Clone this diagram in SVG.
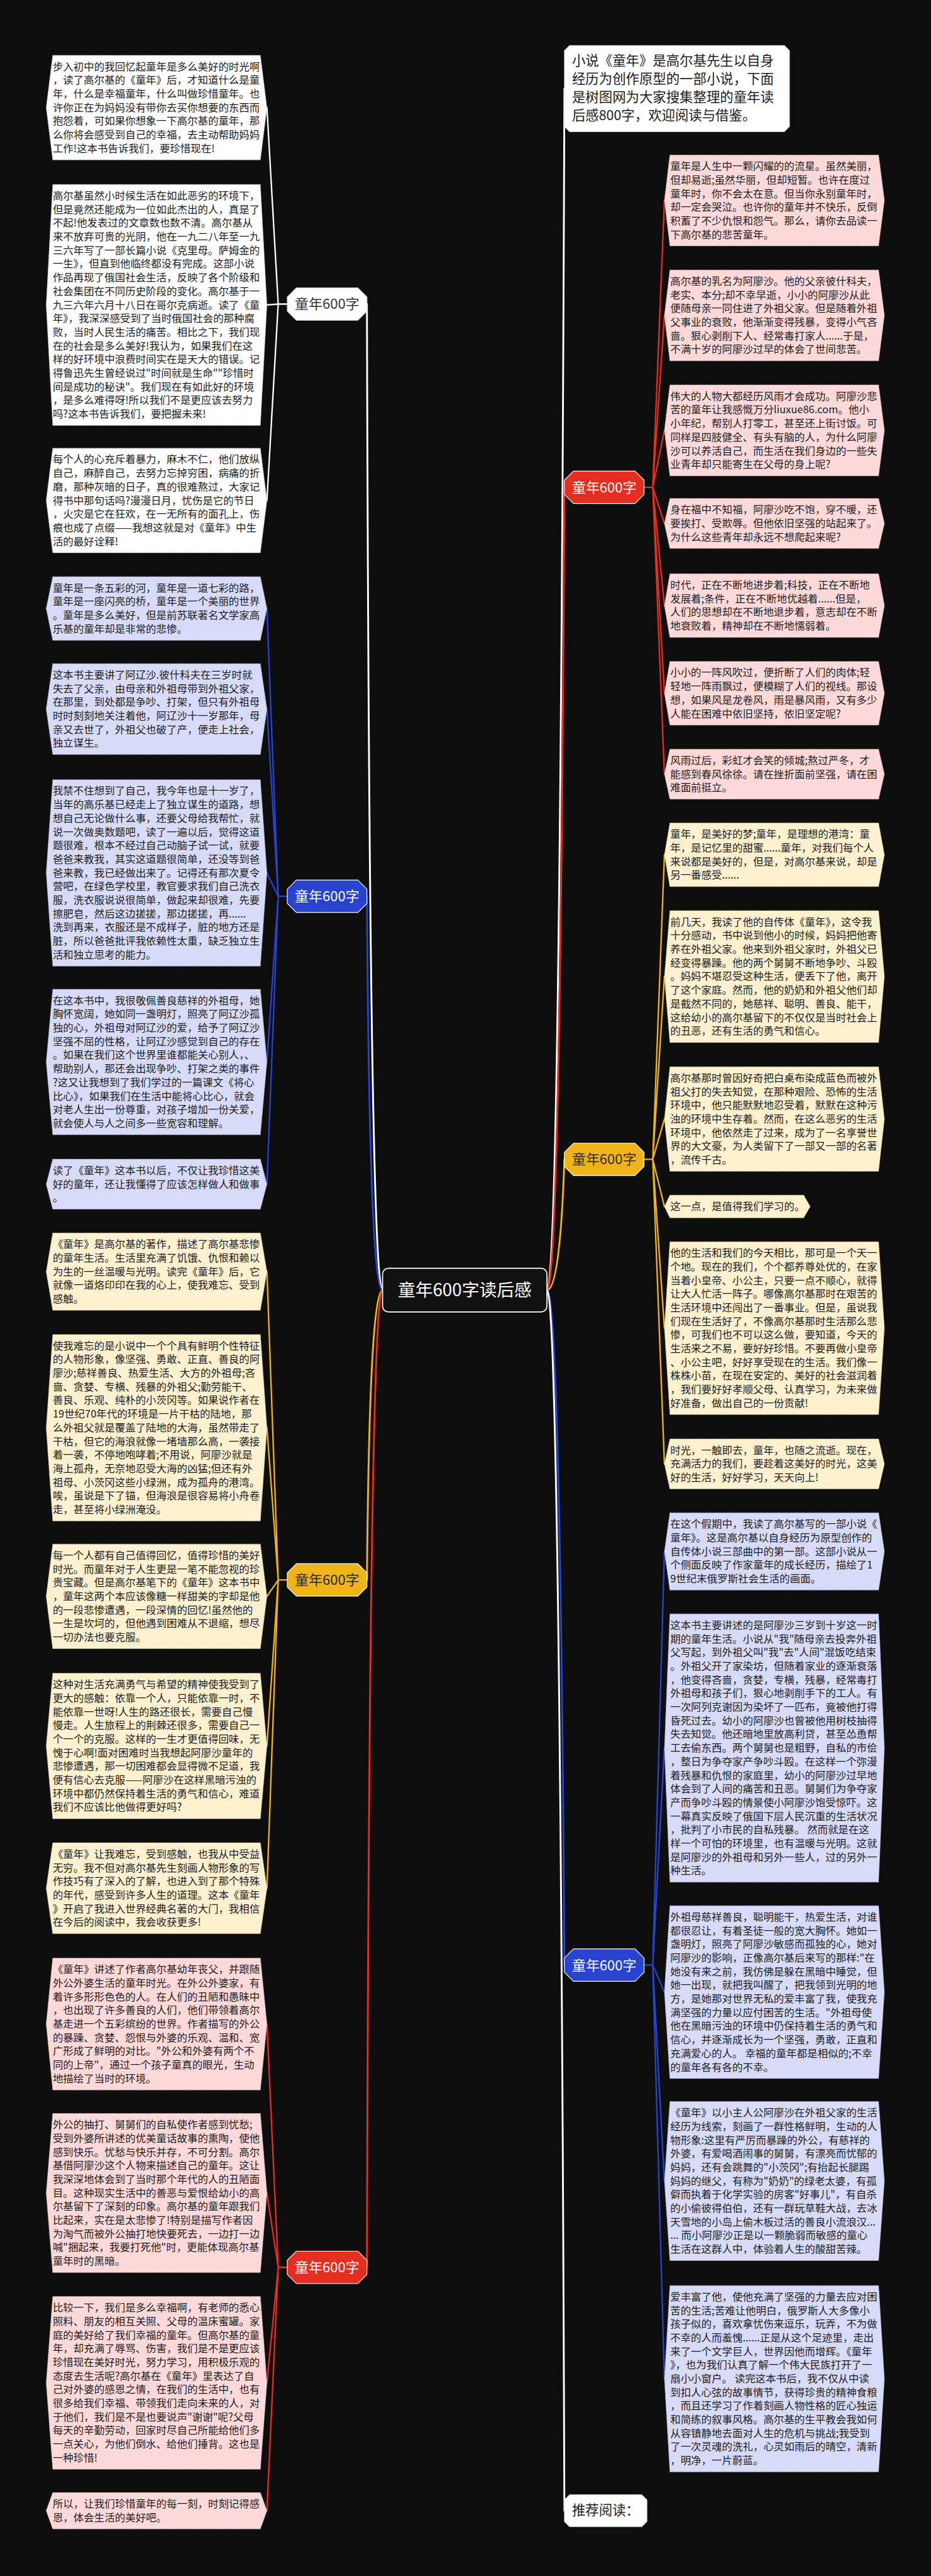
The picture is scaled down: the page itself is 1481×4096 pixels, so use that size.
<svg xmlns="http://www.w3.org/2000/svg" width="1481" height="4096" viewBox="0 0 1481 4096">
<style>
.t{font-family:"Noto Sans CJK SC","Noto Sans",sans-serif;font-size:28.5px;fill:#1c1c1c}
.big{font-family:"Noto Sans CJK SC","Noto Sans",sans-serif;font-size:37px;fill:#1c1c1c}
.lab{font-family:"Noto Sans CJK SC","Noto Sans",sans-serif;font-size:38px;text-anchor:middle}
.wh{fill:#ffffff;stroke:#bbbbbb;stroke-width:1.5;stroke-dasharray:3 2}
.pk{fill:#fdd9d9;stroke:#c9b0b0;stroke-width:1.5;stroke-dasharray:3 2}
.yl{fill:#fdf1cf;stroke:#c9bd9c;stroke-width:1.5;stroke-dasharray:3 2}
.bl{fill:#d7dbf8;stroke:#a9acc9;stroke-width:1.5;stroke-dasharray:3 2}
.ln{fill:none;stroke-linecap:round}
.cw{stroke:#ffffff}.cr{stroke:#e52e1f}.cy{stroke:#f0b419}.cb{stroke:#2843cf}
</style>
<rect x="0" y="0" width="1481" height="4096" fill="#0e0e0e"/>
<g transform="scale(0.5785)">
<g id="connectors">
<!-- main branches right -->
<path class="ln cw" stroke-width="5" d="M1504,3546 Q1540,3546 1552,243.5"/>
<path class="ln cr" stroke-width="5" d="M1504,3546 Q1540,3546 1552,1339.4"/>
<path class="ln cy" stroke-width="5" d="M1504,3546 Q1540,3546 1552,3186.6"/>
<path class="ln cb" stroke-width="5" d="M1504,3546 Q1540,3546 1552,5401.3"/>
<path class="ln cw" stroke-width="5" d="M1504,3546 Q1540,3546 1552,6901"/>
<!-- main branches left -->
<path class="ln cw" stroke-width="5" d="M1052,3546 Q1016,3546 1009,835.8"/>
<path class="ln cb" stroke-width="5" d="M1052,3546 Q1016,3546 1009,2463.6"/>
<path class="ln cy" stroke-width="5" d="M1052,3546 Q1016,3546 1009,4342.6"/>
<path class="ln cr" stroke-width="5" d="M1052,3546 Q1016,3546 1009,6232.1"/>
<!-- left white fan -->
<path class="ln cw" stroke-width="4" d="M790,835.8 L765,835.8 M765,835.8 L734,295.8 M765,835.8 L734,838.3 M765,835.8 L734,1375.8"/>
<!-- left blue fan -->
<path class="ln cb" stroke-width="4" d="M790,2463.6 L765,2463.6 M765,2463.6 L734,1672.5 M765,2463.6 L734,1949 M765,2463.6 L734,2399.3 M765,2463.6 L734,2919 M765,2463.6 L734,3254.8"/>
<!-- left yellow fan -->
<path class="ln cy" stroke-width="4" d="M790,4342.6 L765,4342.6 M765,4342.6 L734,3495.3 M765,4342.6 L734,3924.3 M765,4342.6 L734,4387.8 M765,4342.6 L734,4799 M765,4342.6 L734,5190"/>
<!-- left red fan -->
<path class="ln cr" stroke-width="4" d="M790,6232.1 L765,6232.1 M765,6232.1 L734,5563.3 M765,6232.1 L734,6027.8 M765,6232.1 L734,6549.5 M765,6232.1 L734,6901"/>
<!-- right red fan -->
<path class="ln cr" stroke-width="4" d="M1771,1339.4 L1795,1339.4 M1795,1339.4 L1827,551 M1795,1339.4 L1827,867 M1795,1339.4 L1827,1183 M1795,1339.4 L1827,1438.8 M1795,1339.4 L1827,1664.5 M1795,1339.4 L1827,1905.5 M1795,1339.4 L1827,2127.8"/>
<!-- right yellow fan -->
<path class="ln cy" stroke-width="4" d="M1771,3186.6 L1795,3186.6 M1795,3186.6 L1827,2349.5 M1795,3186.6 L1827,2684.3 M1795,3186.6 L1827,3075.8 M1795,3186.6 L1827,3316.3 M1795,3186.6 L1827,3650.5 M1795,3186.6 L1827,4023.8"/>
<!-- right blue fan -->
<path class="ln cb" stroke-width="4" d="M1771,5401.3 L1795,5401.3 M1795,5401.3 L1827,4264.3 M1795,5401.3 L1827,4804.8 M1795,5401.3 L1827,5475.5 M1795,5401.3 L1827,5994.8 M1795,5401.3 L1827,6538.3"/>
</g>

<g id="center">
<rect x="1052" y="3486" width="452" height="120" rx="16" fill="#111111" stroke="#ffffff" stroke-width="3"/>
<text x="1278" y="3563" class="lab" style="font-size:48px;fill:#ffffff">童年600字读后感</text>
</g>

<!-- branch labels -->
<g id="label-left-white">
<polygon points="815,791.3 984,791.3 1009,816.3 1009,855.3 984,880.3 815,880.3 790,855.3 790,816.3" fill="#ffffff" stroke="#dddddd" stroke-width="2"/>
<text x="899.5" y="849" class="lab" style="fill:#333333">童年600字</text>
</g>
<g id="label-left-blue">
<polygon points="815,2419.1 984,2419.1 1009,2444.1 1009,2483.1 984,2508.1 815,2508.1 790,2483.1 790,2444.1" fill="#2843cf" stroke="#ffffff" stroke-width="2"/>
<text x="899.5" y="2477" class="lab" style="fill:#ffffff">童年600字</text>
</g>
<g id="label-left-yellow">
<polygon points="815,4298.1 984,4298.1 1009,4323.1 1009,4362.1 984,4387.1 815,4387.1 790,4362.1 790,4323.1" fill="#f0b419" stroke="#ffffff" stroke-width="2"/>
<text x="899.5" y="4356" class="lab" style="fill:#2a2a2a">童年600字</text>
</g>
<g id="label-left-red">
<polygon points="815,6187.6 984,6187.6 1009,6212.6 1009,6251.6 984,6276.6 815,6276.6 790,6251.6 790,6212.6" fill="#e52e1f" stroke="#ffffff" stroke-width="2"/>
<text x="899.5" y="6245" class="lab" style="fill:#ffffff">童年600字</text>
</g>
<g id="label-right-red">
<polygon points="1577,1294.9 1746,1294.9 1771,1319.9 1771,1358.9 1746,1383.9 1577,1383.9 1552,1358.9 1552,1319.9" fill="#e52e1f" stroke="#ffffff" stroke-width="2"/>
<text x="1661.5" y="1353" class="lab" style="fill:#ffffff">童年600字</text>
</g>
<g id="label-right-yellow">
<polygon points="1577,3142.1 1746,3142.1 1771,3167.1 1771,3206.1 1746,3231.1 1577,3231.1 1552,3206.1 1552,3167.1" fill="#f0b419" stroke="#ffffff" stroke-width="2"/>
<text x="1661.5" y="3200" class="lab" style="fill:#2a2a2a">童年600字</text>
</g>
<g id="label-right-blue">
<polygon points="1577,5356.8 1746,5356.8 1771,5381.8 1771,5420.8 1746,5445.8 1577,5445.8 1552,5420.8 1552,5381.8" fill="#2843cf" stroke="#ffffff" stroke-width="2"/>
<text x="1661.5" y="5415" class="lab" style="fill:#ffffff">童年600字</text>
</g>

<g id="intro">
<polygon points="1566,125 2157,125 2171,139 2171,348 2157,362 1566,362 1552,348 1552,139" fill="#ffffff" stroke="#dddddd" stroke-width="1.5"/>
<text class="big"><tspan x="1573" y="180">小说《童年》是高尔基先生以自身</tspan><tspan x="1573" dy="50">经历为创作原型的一部小说，下面</tspan><tspan x="1573" dy="50">是树图网为大家搜集整理的童年读</tspan><tspan x="1573" dy="50">后感800字，欢迎阅读与借鉴。</tspan></text>
</g>
<g id="recommend">
<polygon points="1566,6857 1765,6857 1779,6871 1779,6931 1765,6945 1566,6945 1552,6931 1552,6871" fill="#ffffff" stroke="#dddddd" stroke-width="1.5"/>
<text class="big" x="1573" y="6912">推荐阅读：</text>
</g>

<!-- LEFT COLUMN -->
<g id="L1">
<polygon class="wh" points="145,152 716,152 734,295.8 716,439.5 145,439.5 127,295.8"/>
<text class="t"><tspan x="145" y="193">步入初中的我回忆起童年是多么美好的时光啊</tspan><tspan x="145" dy="37.5">，读了高尔基的《童年》后，才知道什么是童</tspan><tspan x="145" dy="37.5">年，什么是幸福童年，什么叫做珍惜童年。也</tspan><tspan x="145" dy="37.5">许你正在为妈妈没有带你去买你想要的东西而</tspan><tspan x="145" dy="37.5">抱怨着，可如果你想象一下高尔基的童年，那</tspan><tspan x="145" dy="37.5">么你将会感受到自己的幸福，去主动帮助妈妈</tspan><tspan x="145" dy="37.5">工作!这本书告诉我们，要珍惜现在!</tspan></text>
</g>
<g id="L2">
<polygon class="wh" points="145,507 716,507 734,838.3 716,1169.5 145,1169.5 127,838.3"/>
<text class="t"><tspan x="145" y="548">高尔基虽然小时候生活在如此恶劣的环境下，</tspan><tspan x="145" dy="37.5">但是竟然还能成为一位如此杰出的人，真是了</tspan><tspan x="145" dy="37.5">不起!他发表过的文章数也数不清。高尔基从</tspan><tspan x="145" dy="37.5">来不放弃可贵的光阴，他在一九二八年至一九</tspan><tspan x="145" dy="37.5">三六年写了一部长篇小说《克里母。萨姆金的</tspan><tspan x="145" dy="37.5">一生》，但直到他临终都没有完成。这部小说</tspan><tspan x="145" dy="37.5">作品再现了俄国社会生活，反映了各个阶级和</tspan><tspan x="145" dy="37.5">社会集团在不同历史阶段的变化。高尔基于一</tspan><tspan x="145" dy="37.5">九三六年六月十八日在哥尔克病逝。读了《童</tspan><tspan x="145" dy="37.5">年》，我深深感受到了当时俄国社会的那种腐</tspan><tspan x="145" dy="37.5">败，当时人民生活的痛苦。相比之下，我们现</tspan><tspan x="145" dy="37.5">在的社会是多么美好!我认为，如果我们在这</tspan><tspan x="145" dy="37.5">样的好环境中浪费时间实在是天大的错误。记</tspan><tspan x="145" dy="37.5">得鲁迅先生曾经说过"时间就是生命""珍惜时</tspan><tspan x="145" dy="37.5">间是成功的秘诀"。我们现在有如此好的环境</tspan><tspan x="145" dy="37.5">，是多么难得呀!所以我们不是更应该去努力</tspan><tspan x="145" dy="37.5">吗?这本书告诉我们，要把握未来!</tspan></text>
</g>
<g id="L3">
<polygon class="wh" points="145,1232 716,1232 734,1375.8 716,1519.5 145,1519.5 127,1375.8"/>
<text class="t"><tspan x="145" y="1273">每个人的心充斥着暴力，麻木不仁，他们放纵</tspan><tspan x="145" dy="37.5">自己，麻醉自己，去努力忘掉穷困，病痛的折</tspan><tspan x="145" dy="37.5">磨，那种灰暗的日子，真的很难熬过，大家记</tspan><tspan x="145" dy="37.5">得书中那句话吗?漫漫日月，忧伤是它的节日</tspan><tspan x="145" dy="37.5">，火灾是它在狂欢，在一无所有的面孔上，伤</tspan><tspan x="145" dy="37.5">痕也成了点缀——我想这就是对《童年》中生</tspan><tspan x="145" dy="37.5">活的最好诠释!</tspan></text>
</g>
<g id="L4">
<polygon class="bl" points="145,1585 716,1585 734,1672.5 716,1760 145,1760 127,1672.5"/>
<text class="t"><tspan x="145" y="1626">童年是一条五彩的河，童年是一道七彩的路，</tspan><tspan x="145" dy="37.5">童年是一座闪亮的桥，童年是一个美丽的世界</tspan><tspan x="145" dy="37.5">。童年是多么美好，但是前苏联著名文学家高</tspan><tspan x="145" dy="37.5">乐基的童年却是非常的悲惨。</tspan></text>
</g>
<g id="L5">
<polygon class="bl" points="145,1824 716,1824 734,1949 716,2074 145,2074 127,1949"/>
<text class="t"><tspan x="145" y="1865">这本书主要讲了阿辽沙.彼什科夫在三岁时就</tspan><tspan x="145" dy="37.5">失去了父亲，由母亲和外祖母带到外祖父家，</tspan><tspan x="145" dy="37.5">在那里，到处都是争吵、打架，但只有外祖母</tspan><tspan x="145" dy="37.5">时时刻刻地关注着他，阿辽沙十一岁那年，母</tspan><tspan x="145" dy="37.5">亲又去世了，外祖父也破了产，便走上社会，</tspan><tspan x="145" dy="37.5">独立谋生。</tspan></text>
</g>
<g id="L6">
<polygon class="bl" points="145,2143 716,2143 734,2399.3 716,2655.5 145,2655.5 127,2399.3"/>
<text class="t"><tspan x="145" y="2184">我禁不住想到了自己，我今年也是十一岁了，</tspan><tspan x="145" dy="37.5">当年的高乐基已经走上了独立谋生的道路，想</tspan><tspan x="145" dy="37.5">想自己无论做什么事，还要父母给我帮忙，就</tspan><tspan x="145" dy="37.5">说一次做奥数题吧，读了一遍以后，觉得这道</tspan><tspan x="145" dy="37.5">题很难，根本不经过自己动脑子试一试，就要</tspan><tspan x="145" dy="37.5">爸爸来教我，其实这道题很简单，还没等到爸</tspan><tspan x="145" dy="37.5">爸来教，我已经做出来了。记得还有那次夏令</tspan><tspan x="145" dy="37.5">营吧，在绿色学校里，教官要求我们自己洗衣</tspan><tspan x="145" dy="37.5">服，洗衣服说说很简单，做起来却很难，先要</tspan><tspan x="145" dy="37.5">擦肥皂，然后这边搓搓，那边搓搓，再......</tspan><tspan x="145" dy="37.5">洗到再来，衣服还是不成样子，脏的地方还是</tspan><tspan x="145" dy="37.5">脏，所以爸爸批评我依赖性太重，缺乏独立生</tspan><tspan x="145" dy="37.5">活和独立思考的能力。</tspan></text>
</g>
<g id="L7">
<polygon class="bl" points="145,2719 716,2719 734,2919 716,3119 145,3119 127,2919"/>
<text class="t"><tspan x="145" y="2760">在这本书中，我很敬佩善良慈祥的外祖母，她</tspan><tspan x="145" dy="37.5">胸怀宽阔，她如同一盏明灯，照亮了阿辽沙孤</tspan><tspan x="145" dy="37.5">独的心，外祖母对阿辽沙的爱，给予了阿辽沙</tspan><tspan x="145" dy="37.5">坚强不屈的性格，让阿辽沙感觉到自己的存在</tspan><tspan x="145" dy="37.5">。如果在我们这个世界里谁都能关心别人，、</tspan><tspan x="145" dy="37.5">帮助别人，那还会出现争吵、打架之类的事件</tspan><tspan x="145" dy="37.5">?这又让我想到了我们学过的一篇课文《将心</tspan><tspan x="145" dy="37.5">比心》，如果我们在生活中能将心比心，就会</tspan><tspan x="145" dy="37.5">对老人生出一份尊重，对孩子增加一份关爱，</tspan><tspan x="145" dy="37.5">就会使人与人之间多一些宽容和理解。</tspan></text>
</g>
<g id="L8">
<polygon class="bl" points="145,3186 716,3186 734,3254.8 716,3323.5 145,3323.5 127,3254.8"/>
<text class="t"><tspan x="145" y="3227">读了《童年》这本书以后，不仅让我珍惜这美</tspan><tspan x="145" dy="37.5">好的童年，还让我懂得了应该怎样做人和做事</tspan><tspan x="145" dy="37.5">。</tspan></text>
</g>
<g id="L9">
<polygon class="yl" points="145,3389 716,3389 734,3495.3 716,3601.5 145,3601.5 127,3495.3"/>
<text class="t"><tspan x="145" y="3430">《童年》是高尔基的著作，描述了高尔基悲惨</tspan><tspan x="145" dy="37.5">的童年生活。生活里充满了饥饿、仇恨和赖以</tspan><tspan x="145" dy="37.5">为生的一丝温暖与光明。读完《童年》后，它</tspan><tspan x="145" dy="37.5">就像一道烙印印在我的心上，使我难忘、受到</tspan><tspan x="145" dy="37.5">感触。</tspan></text>
</g>
<g id="L10">
<polygon class="yl" points="145,3668 716,3668 734,3924.3 716,4180.5 145,4180.5 127,3924.3"/>
<text class="t"><tspan x="145" y="3709">使我难忘的是小说中一个个具有鲜明个性特征</tspan><tspan x="145" dy="37.5">的人物形象，像坚强、勇敢、正直、善良的阿</tspan><tspan x="145" dy="37.5">廖沙;慈祥善良、热爱生活、大方的外祖母;吝</tspan><tspan x="145" dy="37.5">啬、贪婪、专横、残暴的外祖父;勤劳能干、</tspan><tspan x="145" dy="37.5">善良、乐观、纯朴的小茨冈等。如果说作者在</tspan><tspan x="145" dy="37.5">19世纪70年代的环境是一片干枯的陆地，那</tspan><tspan x="145" dy="37.5">么外祖父就是覆盖了陆地的大海，虽然带走了</tspan><tspan x="145" dy="37.5">干枯，但它的海浪就像一堵墙那么高，一袭接</tspan><tspan x="145" dy="37.5">着一袭，不停地咆哮着;不用说，阿廖沙就是</tspan><tspan x="145" dy="37.5">海上孤舟，无奈地忍受大海的凶猛;但还有外</tspan><tspan x="145" dy="37.5">祖母、小茨冈这些小绿洲，成为孤舟的港湾。</tspan><tspan x="145" dy="37.5">唉，虽说是下了锚，但海浪是很容易将小舟卷</tspan><tspan x="145" dy="37.5">走，甚至将小绿洲淹没。</tspan></text>
</g>
<g id="L11">
<polygon class="yl" points="145,4244 716,4244 734,4387.8 716,4531.5 145,4531.5 127,4387.8"/>
<text class="t"><tspan x="145" y="4285">每一个人都有自己值得回忆，值得珍惜的美好</tspan><tspan x="145" dy="37.5">时光。而童年对于人生更是一笔不能忽视的珍</tspan><tspan x="145" dy="37.5">贵宝藏。但是高尔基笔下的《童年》这本书中</tspan><tspan x="145" dy="37.5">，童年这两个本应该像糖一样甜美的字却是他</tspan><tspan x="145" dy="37.5">的一段悲惨遭遇，一段深情的回忆!虽然他的</tspan><tspan x="145" dy="37.5">一生是坎坷的，但他遇到困难从不退缩，想尽</tspan><tspan x="145" dy="37.5">一切办法也要克服。</tspan></text>
</g>
<g id="L12">
<polygon class="yl" points="145,4599 716,4599 734,4799 716,4999 145,4999 127,4799"/>
<text class="t"><tspan x="145" y="4640">这种对生活充满勇气与希望的精神使我受到了</tspan><tspan x="145" dy="37.5">更大的感触：依靠一个人，只能依靠一时，不</tspan><tspan x="145" dy="37.5">能依靠一世呀!人生的路还很长，需要自己慢</tspan><tspan x="145" dy="37.5">慢走。人生旅程上的荆棘还很多，需要自己一</tspan><tspan x="145" dy="37.5">个一个的克服。这样的一生才更值得回味，无</tspan><tspan x="145" dy="37.5">愧于心啊!面对困难时当我想起阿廖沙童年的</tspan><tspan x="145" dy="37.5">悲惨遭遇，那一切困难都会显得微不足道，我</tspan><tspan x="145" dy="37.5">便有信心去克服——阿廖沙在这样黑暗污浊的</tspan><tspan x="145" dy="37.5">环境中都仍然保持着生活的勇气和信心，难道</tspan><tspan x="145" dy="37.5">我们不应该比他做得更好吗?</tspan></text>
</g>
<g id="L13">
<polygon class="yl" points="145,5065 716,5065 734,5190 716,5315 145,5315 127,5190"/>
<text class="t"><tspan x="145" y="5106">《童年》让我难忘，受到感触，也我从中受益</tspan><tspan x="145" dy="37.5">无穷。我不但对高尔基先生刻画人物形象的写</tspan><tspan x="145" dy="37.5">作技巧有了深入的了解，也进入到了那个特殊</tspan><tspan x="145" dy="37.5">的年代，感受到许多人生的道理。这本《童年</tspan><tspan x="145" dy="37.5">》开启了我进入世界经典名著的大门，我相信</tspan><tspan x="145" dy="37.5">在今后的阅读中，我会收获更多!</tspan></text>
</g>
<g id="L14">
<polygon class="pk" points="145,5382 716,5382 734,5563.3 716,5744.5 145,5744.5 127,5563.3"/>
<text class="t"><tspan x="145" y="5423">《童年》讲述了作者高尔基幼年丧父，并跟随</tspan><tspan x="145" dy="37.5">外公外婆生活的童年时光。在外公外婆家，有</tspan><tspan x="145" dy="37.5">着许多形形色色的人。在人们的丑陋和愚昧中</tspan><tspan x="145" dy="37.5">，也出现了许多善良的人们，他们带领着高尔</tspan><tspan x="145" dy="37.5">基走进一个五彩缤纷的世界。作者描写的外公</tspan><tspan x="145" dy="37.5">的暴躁、贪婪、怨恨与外婆的乐观、温和、宽</tspan><tspan x="145" dy="37.5">广形成了鲜明的对比。"外公和外婆有两个不</tspan><tspan x="145" dy="37.5">同的上帝"，通过一个孩子童真的眼光，生动</tspan><tspan x="145" dy="37.5">地描绘了当时的环境。</tspan></text>
</g>
<g id="L15">
<polygon class="pk" points="145,5809 716,5809 734,6027.8 716,6246.5 145,6246.5 127,6027.8"/>
<text class="t"><tspan x="145" y="5850">外公的抽打、舅舅们的自私使作者感到忧愁;</tspan><tspan x="145" dy="37.5">受到外婆所讲述的优美童话故事的熏陶，使他</tspan><tspan x="145" dy="37.5">感到快乐。忧愁与快乐并存，不可分割。高尔</tspan><tspan x="145" dy="37.5">基借阿廖沙这个人物来描述自己的童年。这让</tspan><tspan x="145" dy="37.5">我深深地体会到了当时那个年代的人的丑陋面</tspan><tspan x="145" dy="37.5">目。这种现实生活中的善恶与爱恨给幼小的高</tspan><tspan x="145" dy="37.5">尔基留下了深刻的印象。高尔基的童年跟我们</tspan><tspan x="145" dy="37.5">比起来，实在是太悲惨了!特别是描写作者因</tspan><tspan x="145" dy="37.5">为淘气而被外公抽打地快要死去，一边打一边</tspan><tspan x="145" dy="37.5">喊"捆起来，我要打死他"时，更能体现高尔基</tspan><tspan x="145" dy="37.5">童年时的黑暗。</tspan></text>
</g>
<g id="L16">
<polygon class="pk" points="145,6312 716,6312 734,6549.5 716,6787 145,6787 127,6549.5"/>
<text class="t"><tspan x="145" y="6353">比较一下，我们是多么幸福啊，有老师的悉心</tspan><tspan x="145" dy="37.5">照料、朋友的相互关照、父母的温床蜜罐。家</tspan><tspan x="145" dy="37.5">庭的美好给了我们幸福的童年。但高尔基的童</tspan><tspan x="145" dy="37.5">年，却充满了辱骂、伤害，我们是不是更应该</tspan><tspan x="145" dy="37.5">珍惜现在美好时光，努力学习，用积极乐观的</tspan><tspan x="145" dy="37.5">态度去生活呢?高尔基在《童年》里表达了自</tspan><tspan x="145" dy="37.5">己对外婆的感恩之情，在我们的生活中，也有</tspan><tspan x="145" dy="37.5">很多给我们幸福、带领我们走向未来的人，对</tspan><tspan x="145" dy="37.5">于他们，我们是不是也要说声"谢谢"呢?父母</tspan><tspan x="145" dy="37.5">每天的辛勤劳动，回家时尽自己所能给他们多</tspan><tspan x="145" dy="37.5">一点关心，为他们倒水、给他们捶背。这也是</tspan><tspan x="145" dy="37.5">一种珍惜!</tspan></text>
</g>
<g id="L17">
<polygon class="pk" points="145,6851 716,6851 734,6901 716,6951 145,6951 127,6901"/>
<text class="t"><tspan x="145" y="6892">所以，让我们珍惜童年的每一刻，时刻记得感</tspan><tspan x="145" dy="37.5">恩，体会生活的美好吧。</tspan></text>
</g>

<!-- RIGHT COLUMN -->
<g id="R1">
<polygon class="pk" points="1842,426 2416,426 2432,551 2416,676 1842,676 1827,551"/>
<text class="t"><tspan x="1843" y="467">童年是人生中一颗闪耀的的流星。虽然美丽，</tspan><tspan x="1843" dy="37.5">但却易逝;虽然华丽，但却短暂。也许在度过</tspan><tspan x="1843" dy="37.5">童年时，你不会太在意。但当你永别童年时，</tspan><tspan x="1843" dy="37.5">却一定会哭泣。也许你的童年并不快乐，反倒</tspan><tspan x="1843" dy="37.5">积蓄了不少仇恨和怨气。那么，请你去品读一</tspan><tspan x="1843" dy="37.5">下高尔基的悲苦童年。</tspan></text>
</g>
<g id="R2">
<polygon class="pk" points="1842,742 2416,742 2432,867 2416,992 1842,992 1827,867"/>
<text class="t"><tspan x="1843" y="783">高尔基的乳名为阿廖沙。他的父亲彼什科夫，</tspan><tspan x="1843" dy="37.5">老实、本分;却不幸早逝，小小的阿廖沙从此</tspan><tspan x="1843" dy="37.5">便随母亲一同住进了外祖父家。但是随着外祖</tspan><tspan x="1843" dy="37.5">父事业的衰败，他渐渐变得残暴，变得小气吝</tspan><tspan x="1843" dy="37.5">啬。狠心剥削下人、经常毒打家人......于是，</tspan><tspan x="1843" dy="37.5">不满十岁的阿廖沙过早的体会了世间悲苦。</tspan></text>
</g>
<g id="R3">
<polygon class="pk" points="1842,1058 2416,1058 2432,1183 2416,1308 1842,1308 1827,1183"/>
<text class="t"><tspan x="1843" y="1099">伟大的人物大都经历风雨才会成功。阿廖沙悲</tspan><tspan x="1843" dy="37.5">苦的童年让我感慨万分liuxue86.com。他小</tspan><tspan x="1843" dy="37.5">小年纪，帮别人打零工，甚至还上街讨饭。可</tspan><tspan x="1843" dy="37.5">同样是四肢健全、有头有脑的人，为什么阿廖</tspan><tspan x="1843" dy="37.5">沙可以养活自己，而生活在我们身边的一些失</tspan><tspan x="1843" dy="37.5">业青年却只能寄生在父母的身上呢?</tspan></text>
</g>
<g id="R4">
<polygon class="pk" points="1842,1370 2416,1370 2432,1438.8 2416,1507.5 1842,1507.5 1827,1438.8"/>
<text class="t"><tspan x="1843" y="1411">身在福中不知福，阿廖沙吃不饱，穿不暖，还</tspan><tspan x="1843" dy="37.5">要挨打、受欺辱。但他依旧坚强的站起来了。</tspan><tspan x="1843" dy="37.5">为什么这些青年却永远不想爬起来呢?</tspan></text>
</g>
<g id="R5">
<polygon class="pk" points="1842,1577 2416,1577 2432,1664.5 2416,1752 1842,1752 1827,1664.5"/>
<text class="t"><tspan x="1843" y="1618">时代，正在不断地进步着;科技，正在不断地</tspan><tspan x="1843" dy="37.5">发展着;条件，正在不断地优越着......但是，</tspan><tspan x="1843" dy="37.5">人们的思想却在不断地退步着，意志却在不断</tspan><tspan x="1843" dy="37.5">地衰败着，精神却在不断地懦弱着。</tspan></text>
</g>
<g id="R6">
<polygon class="pk" points="1842,1818 2416,1818 2432,1905.5 2416,1993 1842,1993 1827,1905.5"/>
<text class="t"><tspan x="1843" y="1859">小小的一阵风吹过，便折断了人们的肉体;轻</tspan><tspan x="1843" dy="37.5">轻地一阵雨飘过，便模糊了人们的视线。那设</tspan><tspan x="1843" dy="37.5">想，如果风是龙卷风，雨是暴风雨，又有多少</tspan><tspan x="1843" dy="37.5">人能在困难中依旧坚持，依旧坚定呢?</tspan></text>
</g>
<g id="R7">
<polygon class="pk" points="1842,2059 2416,2059 2432,2127.8 2416,2196.5 1842,2196.5 1827,2127.8"/>
<text class="t"><tspan x="1843" y="2100">风雨过后，彩虹才会笑的倾城;熬过严冬，才</tspan><tspan x="1843" dy="37.5">能感到春风徐徐。请在挫折面前坚强，请在困</tspan><tspan x="1843" dy="37.5">难面前挺立。</tspan></text>
</g>
<g id="R8">
<polygon class="yl" points="1842,2262 2416,2262 2432,2349.5 2416,2437 1842,2437 1827,2349.5"/>
<text class="t"><tspan x="1843" y="2303">童年，是美好的梦;童年，是理想的港湾：童</tspan><tspan x="1843" dy="37.5">年，是记忆里的甜蜜......童年，对我们每个人</tspan><tspan x="1843" dy="37.5">来说都是美好的，但是，对高尔基来说，却是</tspan><tspan x="1843" dy="37.5">另一番感受......</tspan></text>
</g>
<g id="R9">
<polygon class="yl" points="1842,2503 2416,2503 2432,2684.3 2416,2865.5 1842,2865.5 1827,2684.3"/>
<text class="t"><tspan x="1843" y="2544">前几天，我读了他的自传体《童年》，这令我</tspan><tspan x="1843" dy="37.5">十分感动，书中说到他小的时候，妈妈把他寄</tspan><tspan x="1843" dy="37.5">养在外祖父家。他来到外祖父家时，外祖父已</tspan><tspan x="1843" dy="37.5">经变得暴躁。他的两个舅舅不断地争吵、斗殴</tspan><tspan x="1843" dy="37.5">。妈妈不堪忍受这种生活，便丢下了他，离开</tspan><tspan x="1843" dy="37.5">了这个家庭。然而，他的奶奶和外祖父他们却</tspan><tspan x="1843" dy="37.5">是截然不同的，她慈祥、聪明、善良、能干，</tspan><tspan x="1843" dy="37.5">这给幼小的高尔基留下的不仅仅是当时社会上</tspan><tspan x="1843" dy="37.5">的丑恶，还有生活的勇气和信心。</tspan></text>
</g>
<g id="R10">
<polygon class="yl" points="1842,2932 2416,2932 2432,3075.8 2416,3219.5 1842,3219.5 1827,3075.8"/>
<text class="t"><tspan x="1843" y="2973">高尔基那时曾因好奇把白桌布染成蓝色而被外</tspan><tspan x="1843" dy="37.5">祖父打的失去知觉，在那种艰险、恐怖的生活</tspan><tspan x="1843" dy="37.5">环境中，他只能默默地忍受着，默默在这种污</tspan><tspan x="1843" dy="37.5">浊的环境中生存着。然而，在这么恶劣的生活</tspan><tspan x="1843" dy="37.5">环境中，他依然走了过来，成为了一名享誉世</tspan><tspan x="1843" dy="37.5">界的大文豪，为人类留下了一部又一部的名著</tspan><tspan x="1843" dy="37.5">，流传千古。</tspan></text>
</g>
<g id="R11">
<polygon class="yl" points="1842,3285 2210,3285 2228,3316.3 2210,3347.5 1842,3347.5 1827,3316.3"/>
<text class="t"><tspan x="1843" y="3326">这一点，是值得我们学习的。</tspan></text>
</g>
<g id="R12">
<polygon class="yl" points="1842,3413 2416,3413 2432,3650.5 2416,3888 1842,3888 1827,3650.5"/>
<text class="t"><tspan x="1843" y="3454">他的生活和我们的今天相比，那可是一个天一</tspan><tspan x="1843" dy="37.5">个地。现在的我们，个个都养尊处优的，在家</tspan><tspan x="1843" dy="37.5">当着小皇帝、小公主，只要一点不顺心，就得</tspan><tspan x="1843" dy="37.5">让大人忙活一阵子。哪像高尔基那时在艰苦的</tspan><tspan x="1843" dy="37.5">生活环境中还闯出了一番事业。但是，虽说我</tspan><tspan x="1843" dy="37.5">们现在生活好了，不像高尔基那时生活那么悲</tspan><tspan x="1843" dy="37.5">惨，可我们也不可以这么做，要知道，今天的</tspan><tspan x="1843" dy="37.5">生活来之不易，要好好珍惜。不要再做小皇帝</tspan><tspan x="1843" dy="37.5">、小公主吧，好好享受现在的生活。我们像一</tspan><tspan x="1843" dy="37.5">株株小苗，在现在安定的、美好的社会滋润着</tspan><tspan x="1843" dy="37.5">，我们要好好孝顺父母、认真学习，为未来做</tspan><tspan x="1843" dy="37.5">好准备，做出自己的一份贡献!</tspan></text>
</g>
<g id="R13">
<polygon class="yl" points="1842,3955 2416,3955 2432,4023.8 2416,4092.5 1842,4092.5 1827,4023.8"/>
<text class="t"><tspan x="1843" y="3996">时光，一触即去，童年，也随之流逝。现在，</tspan><tspan x="1843" dy="37.5">充满活力的我们，要趁着这美好的时光，这美</tspan><tspan x="1843" dy="37.5">好的生活，好好学习，天天向上!</tspan></text>
</g>
<g id="R14">
<polygon class="bl" points="1842,4158 2416,4158 2432,4264.3 2416,4370.5 1842,4370.5 1827,4264.3"/>
<text class="t"><tspan x="1843" y="4199">在这个假期中，我读了高尔基写的一部小说《</tspan><tspan x="1843" dy="37.5">童年》。这是高尔基以自身经历为原型创作的</tspan><tspan x="1843" dy="37.5">自传体小说三部曲中的第一部。这部小说从一</tspan><tspan x="1843" dy="37.5">个侧面反映了作家童年的成长经历，描绘了1</tspan><tspan x="1843" dy="37.5">9世纪末俄罗斯社会生活的画面。</tspan></text>
</g>
<g id="R15">
<polygon class="bl" points="1842,4436 2416,4436 2432,4804.8 2416,5173.5 1842,5173.5 1827,4804.8"/>
<text class="t"><tspan x="1843" y="4477">这本书主要讲述的是阿廖沙三岁到十岁这一时</tspan><tspan x="1843" dy="37.5">期的童年生活。小说从"我"随母亲去投奔外祖</tspan><tspan x="1843" dy="37.5">父写起，到外祖父叫"我"去"人间"混饭吃结束</tspan><tspan x="1843" dy="37.5">。外祖父开了家染坊，但随着家业的逐渐衰落</tspan><tspan x="1843" dy="37.5">，他变得吝啬，贪婪，专横，残暴，经常毒打</tspan><tspan x="1843" dy="37.5">外祖母和孩子们，狠心地剥削手下的工人。有</tspan><tspan x="1843" dy="37.5">一次阿列克谢因为染坏了一匹布，竟被他打得</tspan><tspan x="1843" dy="37.5">昏死过去。幼小的阿廖沙也曾被他用树枝抽得</tspan><tspan x="1843" dy="37.5">失去知觉。他还暗地里放高利贷，甚至怂恿帮</tspan><tspan x="1843" dy="37.5">工去偷东西。两个舅舅也是粗野，自私的市侩</tspan><tspan x="1843" dy="37.5">，整日为争夺家产争吵斗殴。在这样一个弥漫</tspan><tspan x="1843" dy="37.5">着残暴和仇恨的家庭里，幼小的阿廖沙过早地</tspan><tspan x="1843" dy="37.5">体会到了人间的痛苦和丑恶。舅舅们为争夺家</tspan><tspan x="1843" dy="37.5">产而争吵斗殴的情景使小阿廖沙饱受惊吓。这</tspan><tspan x="1843" dy="37.5">一幕真实反映了俄国下层人民沉重的生活状况</tspan><tspan x="1843" dy="37.5">，批判了小市民的自私残暴。 然而就是在这</tspan><tspan x="1843" dy="37.5">样一个可怕的环境里，也有温暖与光明。这就</tspan><tspan x="1843" dy="37.5">是阿廖沙的外祖母和另外一些人，过的另外一</tspan><tspan x="1843" dy="37.5">种生活。</tspan></text>
</g>
<g id="R16">
<polygon class="bl" points="1842,5238 2416,5238 2432,5475.5 2416,5713 1842,5713 1827,5475.5"/>
<text class="t"><tspan x="1843" y="5279">外祖母慈祥善良，聪明能干，热爱生活，对谁</tspan><tspan x="1843" dy="37.5">都很忍让，有着圣徒一般的宽大胸怀。她如一</tspan><tspan x="1843" dy="37.5">盏明灯，照亮了阿廖沙敏感而孤独的心，她对</tspan><tspan x="1843" dy="37.5">阿廖沙的影响，正像高尔基后来写的那样:"在</tspan><tspan x="1843" dy="37.5">她没有来之前，我仿佛是躲在黑暗中睡觉，但</tspan><tspan x="1843" dy="37.5">她一出现，就把我叫醒了，把我领到光明的地</tspan><tspan x="1843" dy="37.5">方，是她那对世界无私的爱丰富了我，使我充</tspan><tspan x="1843" dy="37.5">满坚强的力量以应付困苦的生活。"外祖母使</tspan><tspan x="1843" dy="37.5">他在黑暗污浊的环境中仍保持着生活的勇气和</tspan><tspan x="1843" dy="37.5">信心，并逐渐成长为一个坚强，勇敢，正直和</tspan><tspan x="1843" dy="37.5">充满爱心的人。 幸福的童年都是相似的;不幸</tspan><tspan x="1843" dy="37.5">的童年各有各的不幸。</tspan></text>
</g>
<g id="R17">
<polygon class="bl" points="1842,5776 2416,5776 2432,5994.8 2416,6213.5 1842,6213.5 1827,5994.8"/>
<text class="t"><tspan x="1843" y="5817">《童年》以小主人公阿廖沙在外祖父家的生活</tspan><tspan x="1843" dy="37.5">经历为线索，刻画了一群性格鲜明，生动的人</tspan><tspan x="1843" dy="37.5">物形象:这里有严厉而暴躁的外公，有慈祥的</tspan><tspan x="1843" dy="37.5">外婆，有爱喝酒闹事的舅舅，有漂亮而忧郁的</tspan><tspan x="1843" dy="37.5">妈妈，还有会跳舞的"小茨冈";有抬起长腿踢</tspan><tspan x="1843" dy="37.5">妈妈的继父，有称为"奶奶"的绿老太婆，有孤</tspan><tspan x="1843" dy="37.5">僻而执着于化学实验的房客"好事儿"，有自杀</tspan><tspan x="1843" dy="37.5">的小偷彼得伯伯，还有一群玩草鞋大战，去冰</tspan><tspan x="1843" dy="37.5">天雪地的小岛上偷木板过活的善良小流浪汉...</tspan><tspan x="1843" dy="37.5">... 而小阿廖沙正是以一颗脆弱而敏感的童心</tspan><tspan x="1843" dy="37.5">生活在这群人中，体验着人生的酸甜苦辣。</tspan></text>
</g>
<g id="R18">
<polygon class="bl" points="1842,6282 2416,6282 2432,6538.3 2416,6794.5 1842,6794.5 1827,6538.3"/>
<text class="t"><tspan x="1843" y="6323">爱丰富了他，使他充满了坚强的力量去应对困</tspan><tspan x="1843" dy="37.5">苦的生活;苦难让他明白，俄罗斯人大多像小</tspan><tspan x="1843" dy="37.5">孩子似的，喜欢拿忧伤来逗乐，玩弄，不为做</tspan><tspan x="1843" dy="37.5">不幸的人而羞愧......正是从这个足迹里，走出</tspan><tspan x="1843" dy="37.5">来了一个文学巨人，世界因他而增辉。《童年</tspan><tspan x="1843" dy="37.5">》，也为我们认真了解一个伟大民族打开了一</tspan><tspan x="1843" dy="37.5">扇小小窗户。 读完这本书后，我不仅从中读</tspan><tspan x="1843" dy="37.5">到扣人心弦的故事情节，获得珍贵的精神食粮</tspan><tspan x="1843" dy="37.5">，而且还学习了作着刻画人物性格的匠心独运</tspan><tspan x="1843" dy="37.5">和简练的叙事风格。高尔基的生平教会我如何</tspan><tspan x="1843" dy="37.5">从容镇静地去面对人生的危机与挑战;我受到</tspan><tspan x="1843" dy="37.5">了一次灵魂的洗礼，心灵如雨后的晴空，清新</tspan><tspan x="1843" dy="37.5">，明净，一片蔚蓝。</tspan></text>
</g>
</g>
</svg>
